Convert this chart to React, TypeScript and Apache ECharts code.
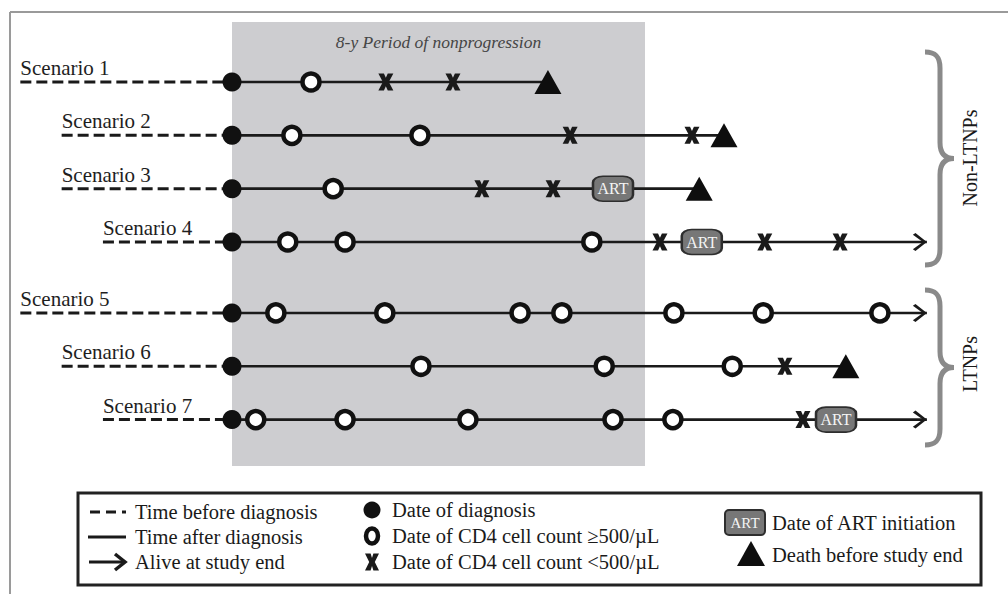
import React, { useEffect, useRef } from "react";
import * as echarts from "echarts";

// ---------------- data (years relative to HIV diagnosis) ----------------
const scenarios = ["Scenario 1", "Scenario 2", "Scenario 3", "Scenario 4", "Scenario 5", "Scenario 6", "Scenario 7"];
const groups = ["Non-LTNPs", "Non-LTNPs", "Non-LTNPs", "Non-LTNPs", "LTNPs", "LTNPs", "LTNPs"];
const timeBeforeDiagnosis = [-4.1, -3.3, -3.3, -2.5, -4.1, -3.3, -2.5];
const cd4AtLeast500: number[][] = [
  [1.53],
  [1.16, 3.64],
  [1.96],
  [1.08, 2.19, 6.97],
  [0.85, 2.96, 5.58, 6.39, 8.56, 10.29, 12.55],
  [3.66, 7.21, 9.69],
  [0.46, 2.19, 4.57, 7.38, 8.54],
];
const cd4Below500: number[][] = [
  [2.98, 4.28],
  [6.55, 8.91],
  [4.84, 6.22],
  [8.29, 10.32, 11.78],
  [],
  [10.71],
  [11.06],
];
const artInitiation: (number | null)[] = [null, null, 7.38, 9.1, null, null, 11.7];
const deathTime: (number | null)[] = [6.12, 9.53, 9.05, null, null, 11.89, null];
const studyEnd = 13.46;
const nonprogressionPeriod = [0, 8];
const periodTitle = "8-y Period of nonprogression";

// ---------------- layout / style ----------------
const SERIF = "Liberation Serif, Times New Roman, serif";
const INK = "#1a1a1a";
const groupGap = 0.33;
const level = (i: number) => i + (groups[i] === "LTNPs" ? groupGap : 0);

const X_PATH =
  "path://M0,0 L5.2,0 L7,4 L8.8,0 L14,0 L9.8,8 L14,16 L8.8,16 L7,12 L5.2,16 L0,16 L4.2,8 Z";
const CHEVRON_PATH = "path://M0,1.8 L2.6,0 L14,9 L2.6,18 L0,16.2 L10,9 Z";

const Brace = (echarts as any).graphic.extendShape({
  shape: { x: 0, y1: 0, y2: 0 },
  buildPath(ctx: any, s: any) {
    const x = s.x;
    const y1 = s.y1;
    const y2 = s.y2;
    const m = (y1 + y2) / 2;
    const xm = x + 15;
    const xt = x + 29;
    ctx.moveTo(x, y1);
    ctx.bezierCurveTo(x + 10, y1, xm, y1 + 4, xm, y1 + 16);
    ctx.lineTo(xm, m - 16);
    ctx.bezierCurveTo(xm, m - 5, xm + 5, m, xt, m);
    ctx.bezierCurveTo(xm + 5, m, xm, m + 5, xm, m + 16);
    ctx.lineTo(xm, y2 - 16);
    ctx.bezierCurveTo(xm, y2 - 4, x + 10, y2, x, y2);
  },
});
(echarts as any).graphic.registerShape("brace", Brace);

function xPoints(cx: number, cy: number, w: number, h: number) {
  const p = [
    [0, 0], [0.4, 0], [0.5, 0.26], [0.6, 0], [1, 0], [0.7, 0.5],
    [1, 1], [0.6, 1], [0.5, 0.74], [0.4, 1], [0, 1], [0.3, 0.5],
  ];
  return p.map(([a, b]) => [cx - w / 2 + a * w, cy - h / 2 + b * h]);
}

function buildOption() {
  const series: any[] = [];

  scenarios.forEach((name, i) => {
    const y = level(i);
    const end = deathTime[i] ?? studyEnd;
    series.push({
      type: "line",
      name: name + " before",
      z: 3,
      symbol: "none",
      silent: true,
      clip: false,
      lineStyle: { color: INK, width: 3, type: [11, 5] },
      data: [[timeBeforeDiagnosis[i], y], [0, y]],
    });
    const solid: any = {
      type: "line",
      name: name + " after",
      z: 3,
      symbol: "none",
      silent: true,
      clip: false,
      lineStyle: { color: INK, width: 2.6 },
      data: [[0, y], [end, y]],
    };
    if (i === 0) {
      solid.markArea = {
        silent: true,
        itemStyle: { color: "#cdcdd0" },
        label: {
          show: true,
          position: "insideTop",
          distance: 11,
          formatter: periodTitle,
          fontFamily: SERIF,
          fontStyle: "italic",
          fontSize: 17.5,
          color: "#454545",
        },
        data: [[{ xAxis: nonprogressionPeriod[0] }, { xAxis: nonprogressionPeriod[1] }]],
      };
    }
    series.push(solid);
  });

  const base = { type: "scatter", clip: false, silent: true };

  series.push({
    ...base,
    name: "Date of diagnosis",
    z: 5,
    symbol: "circle",
    symbolSize: 19,
    itemStyle: { color: "#111111", opacity: 1 },
    data: scenarios.map((_, i) => [0, level(i)]),
  });

  series.push({
    ...base,
    name: "CD4 >= 500",
    z: 5,
    symbol: "circle",
    symbolSize: 17,
    itemStyle: { color: "#ffffff", borderColor: "#111111", borderWidth: 4.5, opacity: 1 },
    data: cd4AtLeast500.flatMap((arr, i) => arr.map((t) => [t, level(i)])),
  });

  series.push({
    ...base,
    name: "CD4 < 500",
    z: 5,
    symbol: X_PATH,
    symbolSize: [15, 17],
    itemStyle: { color: INK, opacity: 1 },
    data: cd4Below500.flatMap((arr, i) => arr.map((t) => [t, level(i)])),
  });

  series.push({
    ...base,
    name: "ART",
    z: 6,
    symbol: "roundRect",
    symbolSize: [40, 25],
    itemStyle: { color: "#777777", borderColor: "#2e2e2e", borderWidth: 2, opacity: 1 },
    label: {
      show: true,
      position: "inside",
      formatter: "ART",
      fontFamily: SERIF,
      fontSize: 16,
      color: "#f4f4f4",
    },
    data: artInitiation
      .map((t, i) => (t == null ? null : [t, level(i)]))
      .filter((d) => d != null),
  });

  series.push({
    ...base,
    name: "Death",
    z: 6,
    symbol: "triangle",
    symbolSize: [27, 24],
    itemStyle: { color: "#0e0e0e", opacity: 1 },
    data: deathTime
      .map((t, i) => (t == null ? null : [t, level(i)]))
      .filter((d) => d != null),
  });

  series.push({
    ...base,
    name: "Alive",
    z: 6,
    symbol: CHEVRON_PATH,
    symbolSize: [14, 18],
    symbolOffset: [-7, 0],
    itemStyle: { color: INK, opacity: 1 },
    data: deathTime
      .map((t, i) => (t == null ? [studyEnd, level(i)] : null))
      .filter((d) => d != null),
  });

  series.push({
    ...base,
    name: "labels",
    z: 6,
    symbol: "circle",
    symbolSize: 2,
    itemStyle: { color: "rgba(0,0,0,0)", opacity: 1 },
    label: {
      show: true,
      position: [1, -13],
      align: "left",
      verticalAlign: "middle",
      formatter: "{b}",
      fontFamily: SERIF,
      fontSize: 21,
      color: "#1e1e1e",
    },
    labelLayout: { hideOverlap: false },
    data: scenarios.map((name, i) => ({ name, value: [timeBeforeDiagnosis[i], level(i)] })),
  });

  const txt = (x: number, y: number, text: string, extra: any = {}) => ({
    type: "text",
    x,
    y,
    silent: true,
    style: {
      text,
      fontFamily: SERIF,
      fontSize: 20.5,
      fill: "#1a1a1a",
      align: "left",
      verticalAlign: "middle",
      ...extra,
    },
  });

  const graphic: any[] = [
    // outer frame
    { type: "line", shape: { x1: 10, y1: 12, x2: 1008, y2: 12 }, style: { stroke: "#9a9a9a", lineWidth: 2 } },
    { type: "line", shape: { x1: 10, y1: 12, x2: 10, y2: 594 }, style: { stroke: "#9a9a9a", lineWidth: 2 } },
    // braces
    { type: "brace", shape: { x: 925, y1: 52, y2: 265 }, style: { stroke: "#8a8a8a", lineWidth: 5, fill: null } },
    { type: "brace", shape: { x: 925, y1: 290, y2: 445 }, style: { stroke: "#8a8a8a", lineWidth: 5, fill: null } },
    {
      type: "text", x: 970, y: 158, rotation: Math.PI / 2,
      style: { text: groups[0], fontFamily: SERIF, fontSize: 20, fill: "#1a1a1a", align: "center", verticalAlign: "middle" },
    },
    {
      type: "text", x: 970, y: 364, rotation: Math.PI / 2,
      style: { text: groups[4], fontFamily: SERIF, fontSize: 20, fill: "#1a1a1a", align: "center", verticalAlign: "middle" },
    },
    // legend box
    { type: "rect", shape: { x: 78, y: 493, width: 903, height: 92 }, style: { fill: "#fff", stroke: "#222", lineWidth: 3 } },
    // column 1
    { type: "line", shape: { x1: 90, y1: 512, x2: 126, y2: 512 }, style: { stroke: INK, lineWidth: 3, lineDash: [10, 6] } },
    txt(135, 512, "Time before diagnosis"),
    { type: "line", shape: { x1: 88, y1: 537, x2: 126, y2: 537 }, style: { stroke: INK, lineWidth: 3 } },
    txt(135, 537, "Time after diagnosis"),
    { type: "line", shape: { x1: 89, y1: 562, x2: 123, y2: 562 }, style: { stroke: INK, lineWidth: 3 } },
    { type: "polyline", shape: { points: [[115, 554], [125, 562], [115, 570]] }, style: { stroke: INK, lineWidth: 3.5, fill: null } },
    txt(135, 562, "Alive at study end"),
    // column 2
    { type: "circle", shape: { cx: 372, cy: 510, r: 8.5 }, style: { fill: "#111" } },
    txt(392, 510, "Date of diagnosis"),
    { type: "ellipse", shape: { cx: 372, cy: 536, rx: 6, ry: 7.5 }, style: { fill: "#fff", stroke: "#111", lineWidth: 4.5 } },
    txt(392, 536, "Date of CD4 cell count \u2265500/\u00b5L"),
    { type: "polygon", shape: { points: xPoints(372, 562, 14, 17) }, style: { fill: INK } },
    txt(392, 562, "Date of CD4 cell count <500/\u00b5L"),
    // column 3
    { type: "rect", shape: { x: 725, y: 510, width: 40, height: 25, r: 4 }, style: { fill: "#777", stroke: "#2e2e2e", lineWidth: 2 } },
    txt(745, 523, "ART", { fontSize: 15, fill: "#f4f4f4", align: "center" }),
    txt(772, 523, "Date of ART initiation"),
    { type: "polygon", shape: { points: [[751, 541], [737, 566], [765, 566]] }, style: { fill: "#0e0e0e" } },
    txt(772, 555, "Death before study end"),
  ];

  return {
    animation: false,
    backgroundColor: "#ffffff",
    textStyle: { fontFamily: SERIF },
    grid: { left: 4.85, right: 53.25, top: 22, bottom: 128 },
    xAxis: { type: "value", min: -4.4, max: 14, show: false, splitLine: { show: false } },
    yAxis: { type: "value", min: -1.125, max: 7.2, inverse: true, show: false, splitLine: { show: false } },
    series,
    graphic,
  };
}

export default function App() {
  const ref = useRef<HTMLDivElement>(null);
  useEffect(() => {
    if (!ref.current) return;
    const chart = echarts.init(ref.current, undefined, { renderer: "svg" });
    chart.setOption(buildOption() as any);
    return () => chart.dispose();
  }, []);
  return (
    <div
      ref={ref}
      style={{ position: "absolute", left: 0, top: 0, width: 1008, height: 594, background: "#fff" }}
    />
  );
}
